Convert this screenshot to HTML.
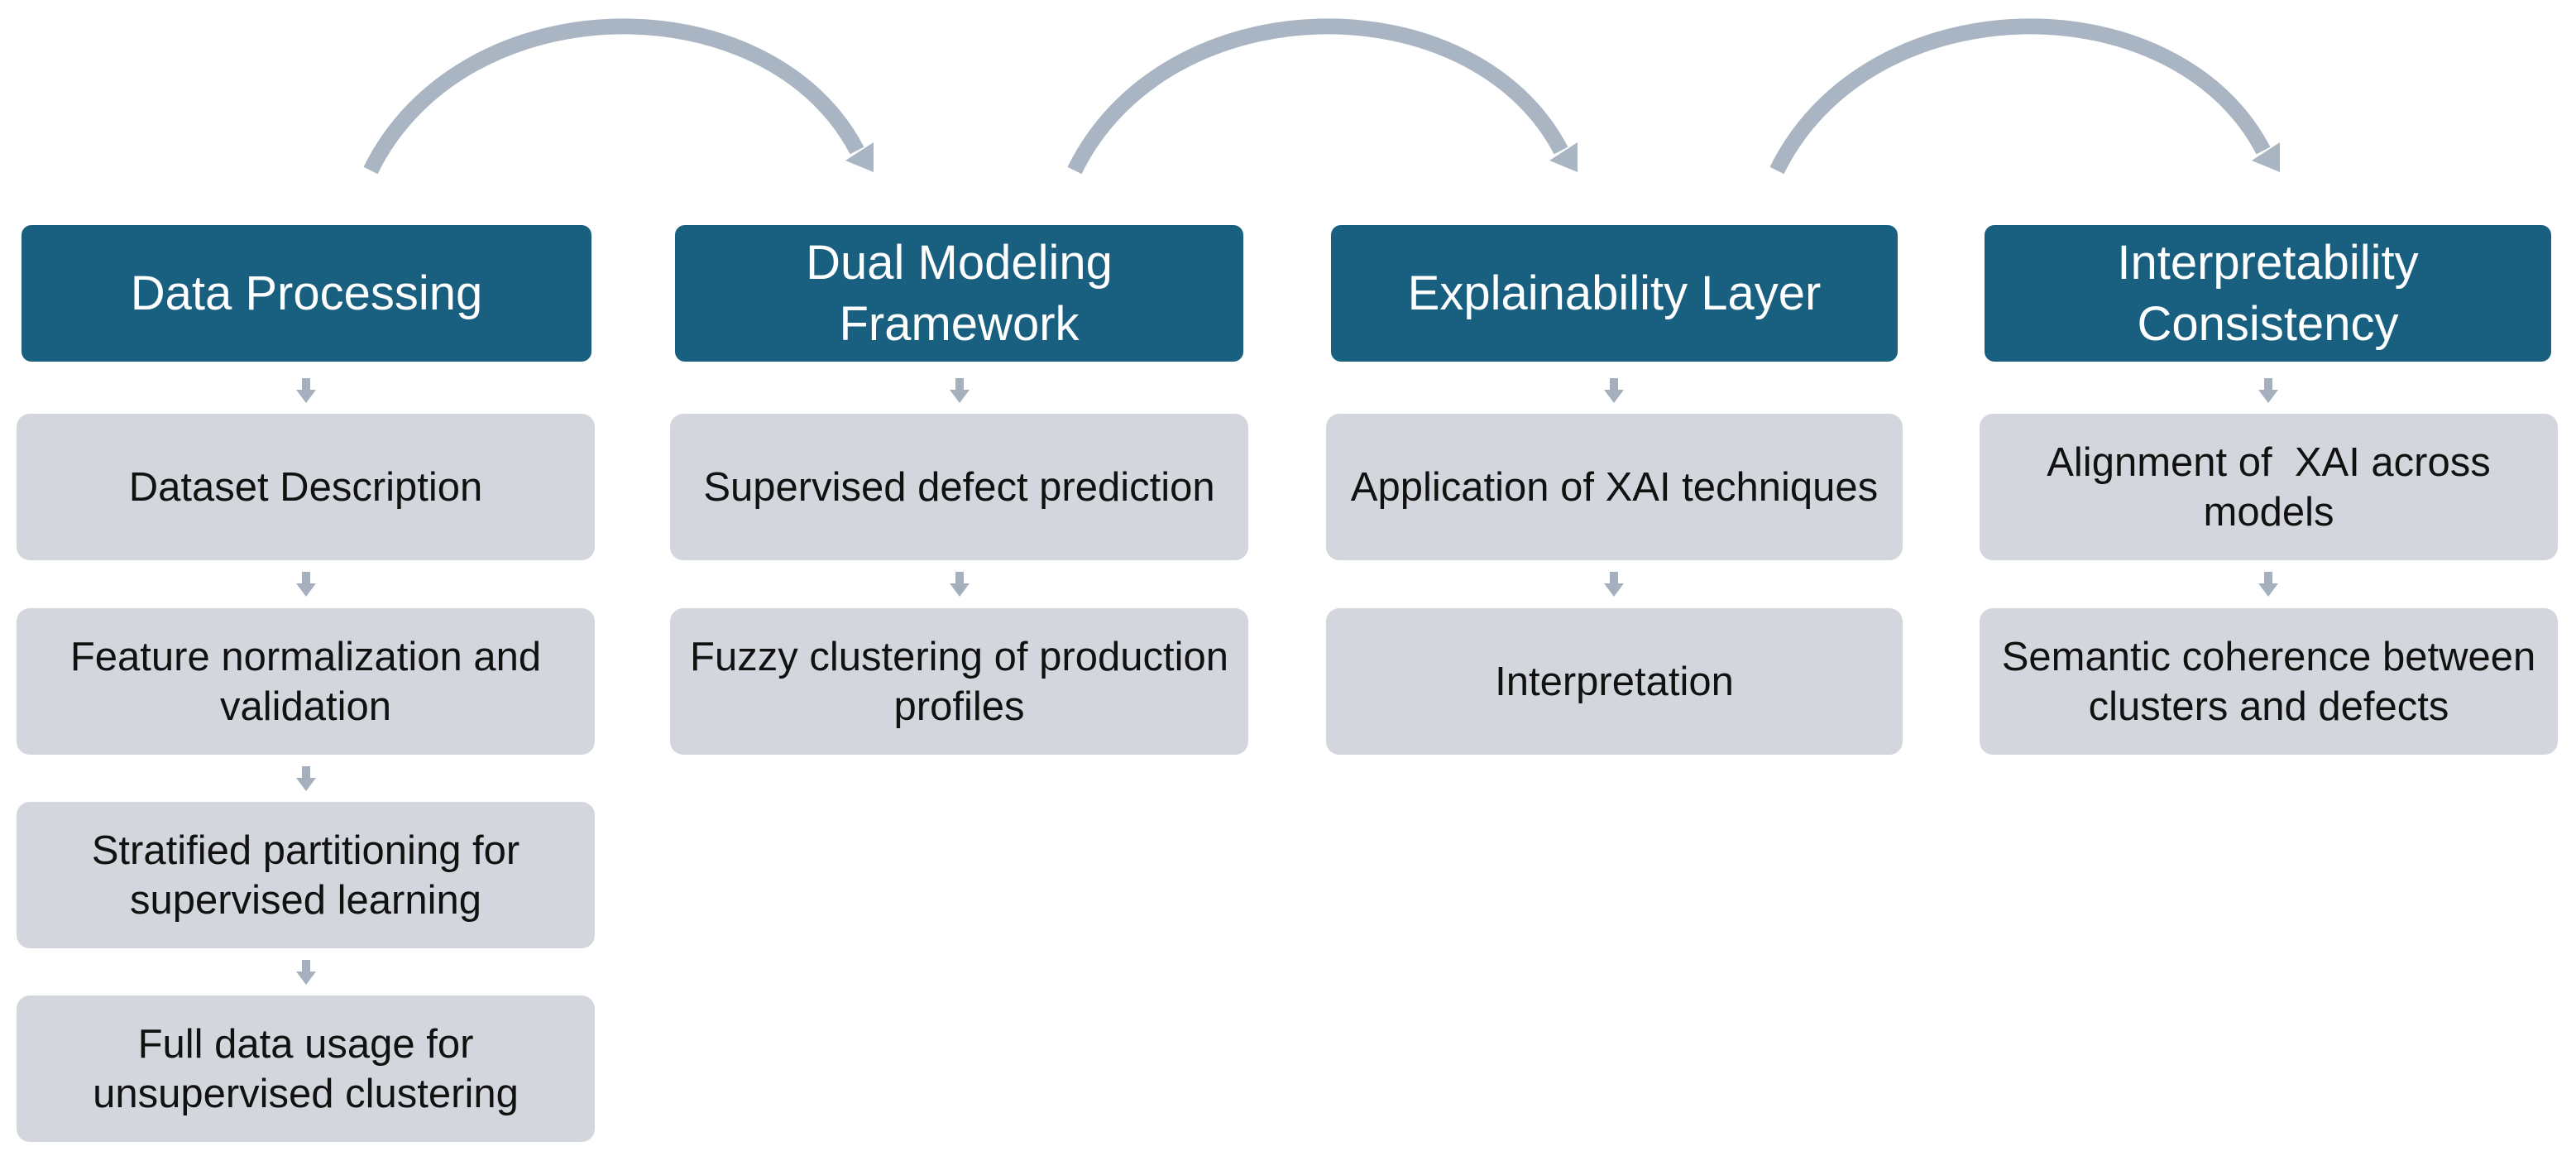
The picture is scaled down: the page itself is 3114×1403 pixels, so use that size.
<!DOCTYPE html>
<html><head><meta charset="utf-8"><style>
html,body{margin:0;padding:0;background:#fff;}
body{width:3114px;height:1403px;position:relative;overflow:hidden;font-family:"Liberation Sans",sans-serif;}
.h{position:absolute;background:#195f80;color:#fff;border-radius:12px;display:flex;align-items:center;justify-content:center;text-align:center;font-size:58px;line-height:74px;top:272px;height:165px;}
.g{position:absolute;background:#d3d7dd;color:#111;border-radius:16px;display:flex;align-items:center;justify-content:center;text-align:center;font-size:49px;line-height:60px;height:177px;white-space:nowrap;}
</style></head><body>
<svg width="3114" height="1403" style="position:absolute;left:0;top:0">
<defs><g id="arc">
<path d="M 448 206 C 560 -22, 930 -22, 1036 182" fill="none" stroke="#a9b5c3" stroke-width="19"/>
<polygon points="1056,208 1056,172 1022,194" fill="#a9b5c3"/>
</g>
<g id="d"><rect x="-5" y="0" width="10" height="16" fill="#a5b0be"/><polygon points="-12,14 12,14 0,30" fill="#a5b0be"/></g>
</defs>
<use href="#arc"/>
<use href="#arc" x="851"/>
<use href="#arc" x="1700"/>
<use href="#d" x="370" y="457"/><use href="#d" x="370" y="691"/><use href="#d" x="370" y="926"/><use href="#d" x="370" y="1160"/>
<use href="#d" x="1160" y="457"/><use href="#d" x="1160" y="691"/>
<use href="#d" x="1951" y="457"/><use href="#d" x="1951" y="691"/>
<use href="#d" x="2742" y="457"/><use href="#d" x="2742" y="691"/>
</svg>
<div class="h" style="left:26px;width:689px">Data Processing</div>
<div class="h" style="left:816px;width:687px">Dual Modeling<br>Framework</div>
<div class="h" style="left:1609px;width:685px">Explainability Layer</div>
<div class="h" style="left:2399px;width:685px">Interpretability<br>Consistency</div>

<div class="g" style="left:20px;width:699px;top:500px">Dataset Description</div>
<div class="g" style="left:20px;width:699px;top:735px">Feature normalization and<br>validation</div>
<div class="g" style="left:20px;width:699px;top:969px">Stratified partitioning for<br>supervised learning</div>
<div class="g" style="left:20px;width:699px;top:1203px">Full data usage for<br>unsupervised clustering</div>

<div class="g" style="left:810px;width:699px;top:500px">Supervised defect prediction</div>
<div class="g" style="left:810px;width:699px;top:735px">Fuzzy clustering of production<br>profiles</div>

<div class="g" style="left:1603px;width:697px;top:500px">Application of XAI techniques</div>
<div class="g" style="left:1603px;width:697px;top:735px">Interpretation</div>

<div class="g" style="left:2393px;width:699px;top:500px">Alignment of&nbsp; XAI across<br>models</div>
<div class="g" style="left:2393px;width:699px;top:735px">Semantic coherence between<br>clusters and defects</div>
</body></html>
